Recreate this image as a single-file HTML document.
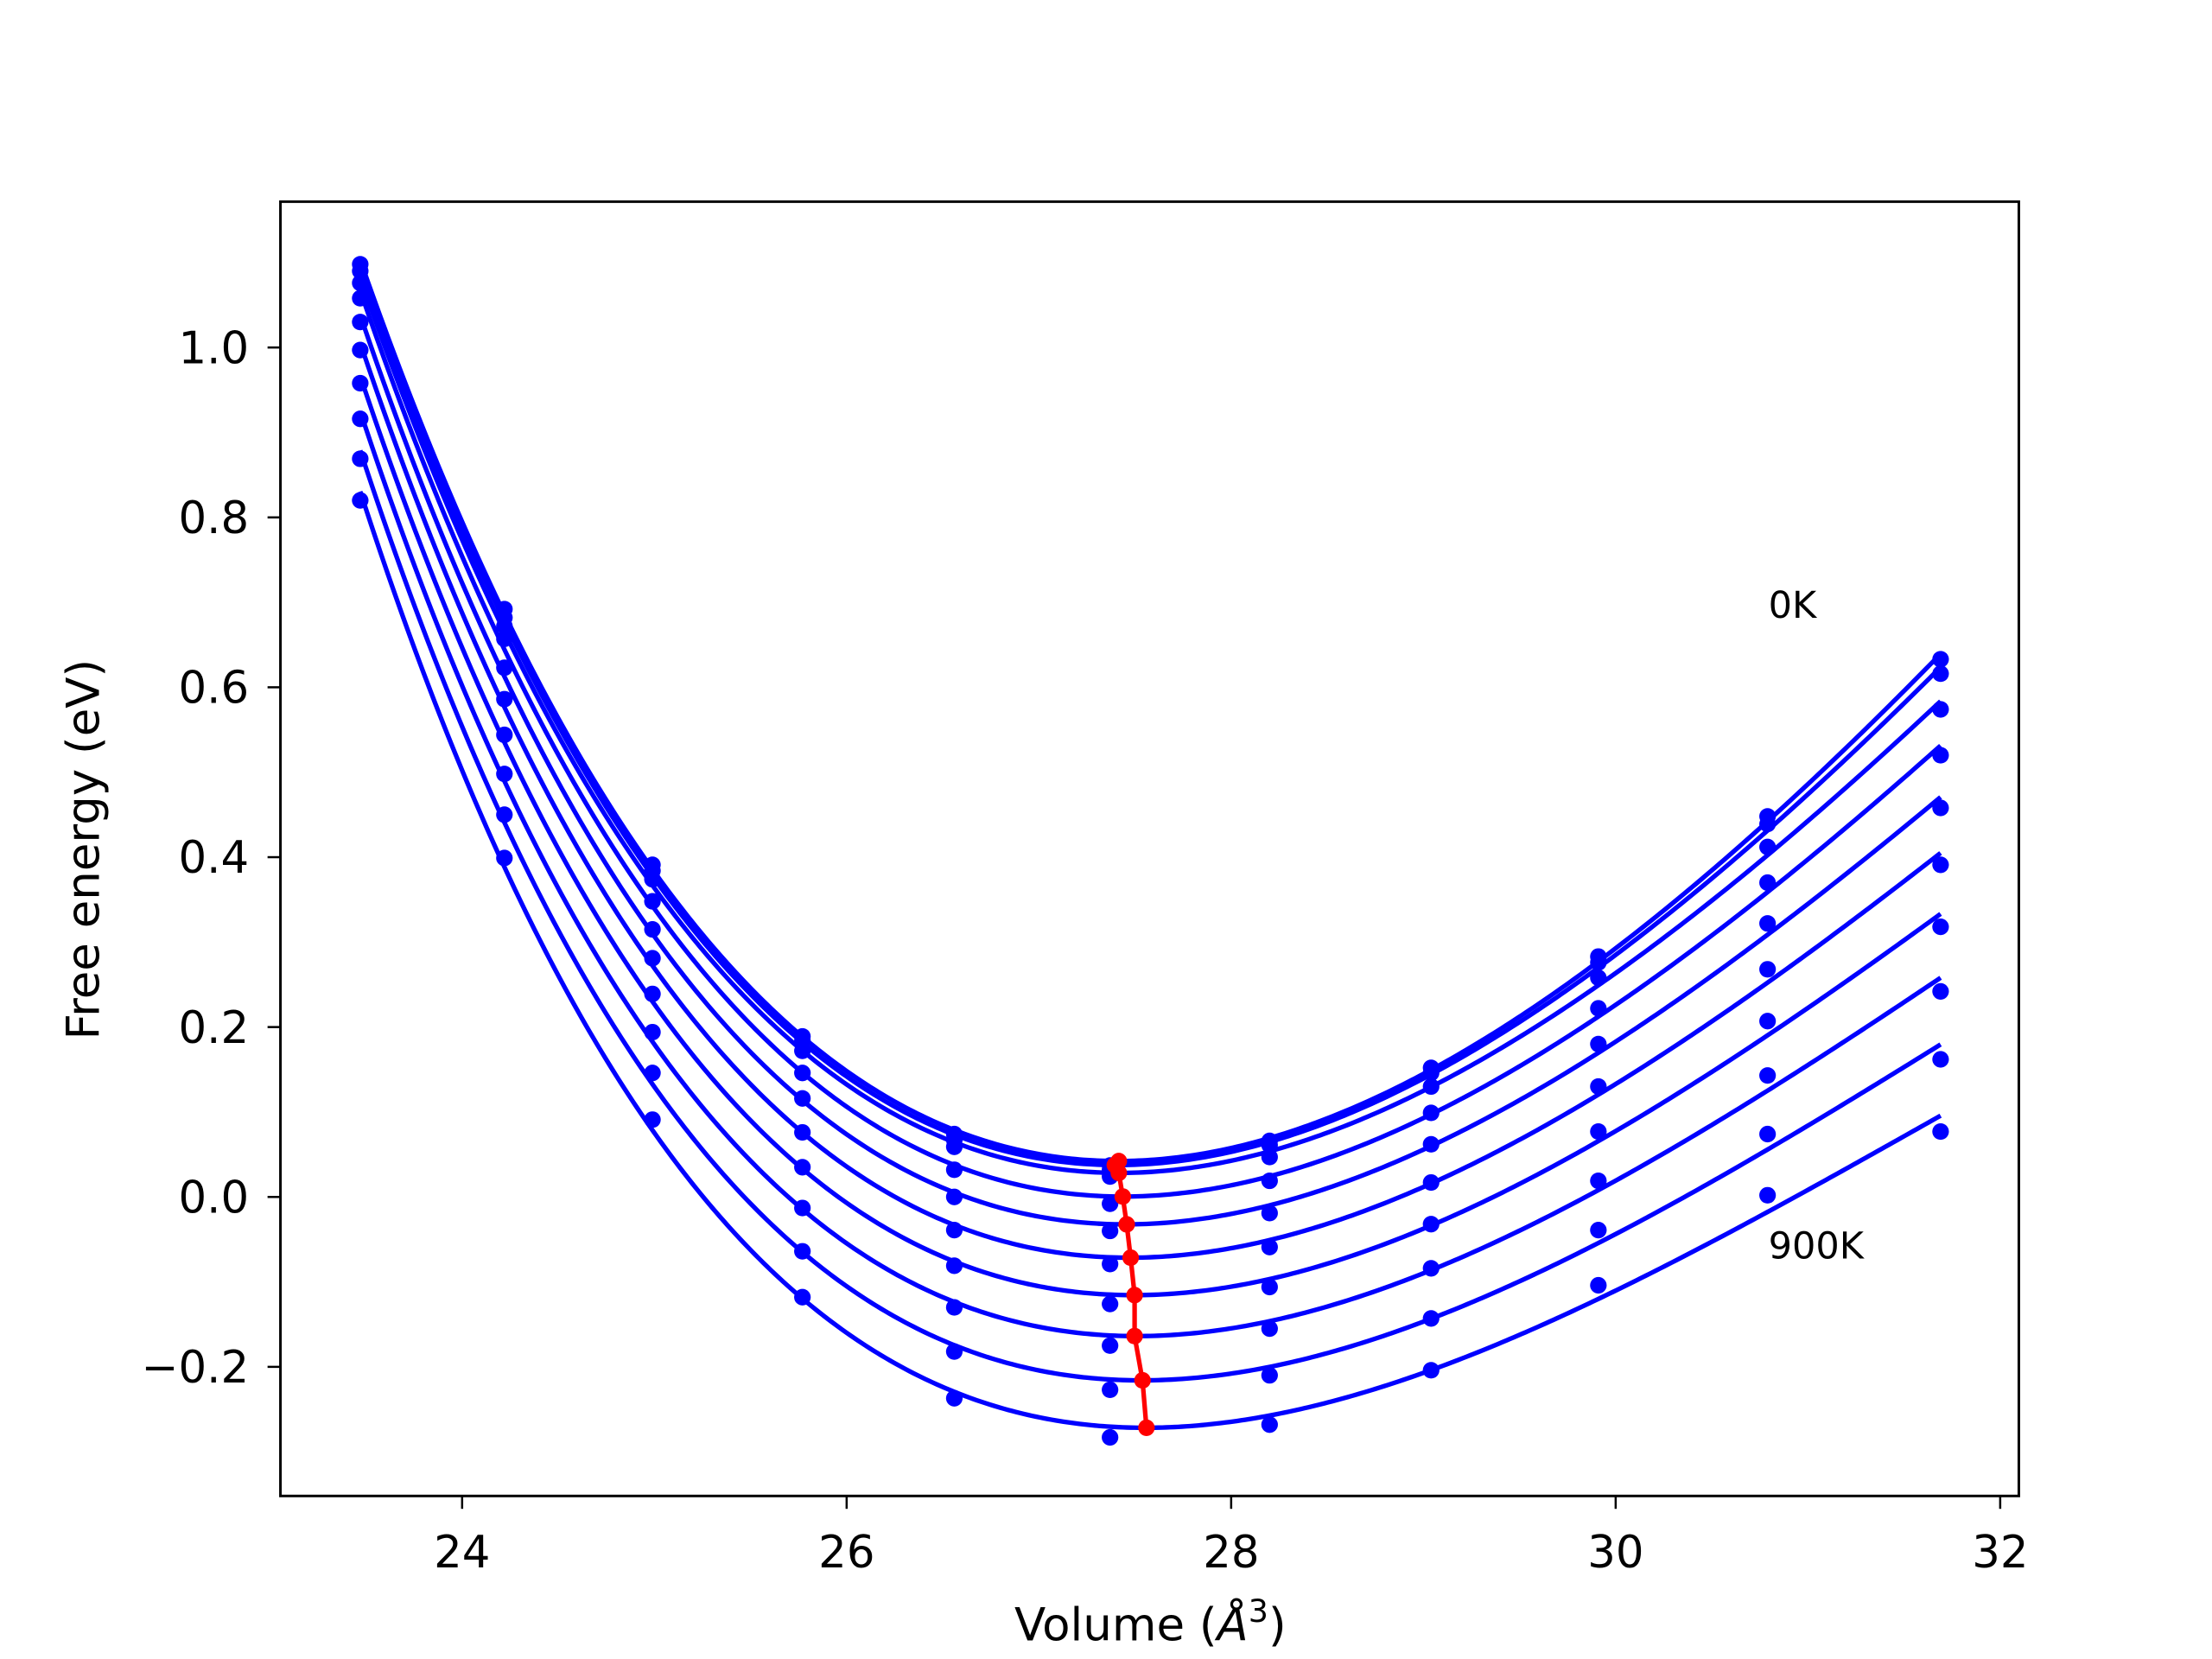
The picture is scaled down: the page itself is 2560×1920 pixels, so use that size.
<!DOCTYPE html>
<html><head><meta charset="utf-8"><style>
html,body{margin:0;padding:0;background:#fff;}
svg{display:block;}
text{font-family:"DejaVu Sans","Liberation Sans",sans-serif;fill:#000;}
</style></head><body>
<svg id="chart" width="2560" height="1920" viewBox="0 0 1546 1160" preserveAspectRatio="none" xmlns="http://www.w3.org/2000/svg">
<rect x="0" y="0" width="1546" height="1160" fill="#fff"/>
<g id="plot"></g>
<rect x="196" y="141" width="1215" height="905" fill="none" stroke="#000" stroke-width="1.8"/>
<g id="xticks"></g>
<g id="yticks"></g>
<text x="804" y="1147" font-size="32" text-anchor="middle">Volume (<tspan font-style="italic">Å</tspan><tspan font-size="22" dy="-13">3</tspan><tspan dy="13">)</tspan></text>
<text transform="translate(69,594) rotate(-90)" font-size="32" text-anchor="middle">Free energy (eV)</text>
<text x="1236" y="432" font-size="26">0K</text>
<text x="1236" y="880" font-size="26">900K</text>
</svg>
<script>
const volumes = [23.47, 24.22, 24.99, 25.77, 26.56, 27.37, 28.20, 29.04, 29.91, 30.79, 31.69];
const temperatures = ["0K","100K","200K","300K","400K","500K","600K","700K","800K","900K"];
const e0 = [1.098, 0.692, 0.391, 0.189, 0.074, 0.037, 0.066, 0.152, 0.283, 0.448, 0.633];
const e1 = [1.090, 0.682, 0.384, 0.184, 0.067, 0.032, 0.061, 0.146, 0.276, 0.439, 0.616];
const e2 = [1.076, 0.672, 0.374, 0.172, 0.059, 0.024, 0.047, 0.130, 0.258, 0.412, 0.574];
const e3 = [1.058, 0.657, 0.348, 0.146, 0.032, -0.008, 0.019, 0.099, 0.222, 0.370, 0.520];
const e4 = [1.030, 0.623, 0.315, 0.116, 0.000, -0.040, -0.019, 0.062, 0.180, 0.322, 0.458];
const e5 = [0.997, 0.586, 0.281, 0.076, -0.039, -0.079, -0.059, 0.017, 0.130, 0.268, 0.391];
const e6 = [0.958, 0.544, 0.239, 0.035, -0.081, -0.126, -0.106, -0.032, 0.077, 0.207, 0.318];
const e7 = [0.916, 0.498, 0.194, -0.013, -0.130, -0.175, -0.155, -0.084, 0.019, 0.143, 0.242];
const e8 = [0.869, 0.450, 0.146, -0.064, -0.182, -0.227, -0.210, -0.143, -0.039, 0.074, 0.162];
const e9 = [0.820, 0.399, 0.091, -0.118, -0.237, -0.283, -0.268, -0.204, -0.104, 0.002, 0.077];
const series = [e0, e1, e2, e3, e4, e5, e6, e7, e8, e9];
const xTicks = [24, 26, 28, 30, 32];
const yTicks = [-0.2, 0.0, 0.2, 0.4, 0.6, 0.8, 1.0];
const yTickLabels = ["\u22120.2", "0.0", "0.2", "0.4", "0.6", "0.8", "1.0"];

const X0 = 196, X1 = 1411, Y0 = 141, Y1 = 1046;
const xMin = 23.055, xMax = 32.097, yMin = -0.352, yMax = 1.1717;
const sx = v => X0 + (v - xMin) / (xMax - xMin) * (X1 - X0);
const sy = v => Y1 - (v - yMin) / (yMax - yMin) * (Y1 - Y0);
const NS = "http://www.w3.org/2000/svg";
function mk(tag, attrs, parent) { const e = document.createElementNS(NS, tag); for (const k in attrs) e.setAttribute(k, attrs[k]); parent.appendChild(e); return e; }

// Birch-Murnaghan style fit: E = a + b x + c x^2 + d x^3, x = V^(-2/3)
function fitBM(xs, ys) {
  const n = 4, s = 0.1;
  const tr = v => (Math.pow(v, -2/3) - s) * 100;
  const A = Array.from({length:n}, () => new Array(n+1).fill(0));
  for (let k = 0; k < xs.length; k++) {
    const t = tr(xs[k]), p = [1, t, t*t, t*t*t];
    for (let i = 0; i < n; i++) { for (let j = 0; j < n; j++) A[i][j] += p[i]*p[j]; A[i][n] += p[i]*ys[k]; }
  }
  for (let i = 0; i < n; i++) {
    let m = i; for (let r = i+1; r < n; r++) if (Math.abs(A[r][i]) > Math.abs(A[m][i])) m = r;
    [A[i], A[m]] = [A[m], A[i]];
    for (let r = 0; r < n; r++) if (r !== i) { const f = A[r][i] / A[i][i]; for (let j = i; j <= n; j++) A[r][j] -= f*A[i][j]; }
  }
  const co = A.map((row, i) => row[n] / row[i]);
  return v => { const t = tr(v); return co[0] + co[1]*t + co[2]*t*t + co[3]*t*t*t; };
}

const plot = document.getElementById('plot');
const minima = [];
series.forEach((ys, si) => {
  const f = fitBM(volumes, ys);
  const vA = volumes[0], vB = volumes[volumes.length-1];
  let d = "", best = {v: vA, e: Infinity};
  for (let i = 0; i <= 400; i++) {
    const v = vA + (vB - vA) * i / 400, e = f(v);
    if (e < best.e) best = {v, e};
    d += (i ? "L" : "M") + sx(v).toFixed(2) + "," + sy(e).toFixed(2);
  }
  minima.push(best);
  const path = mk('path', {d, fill: 'none', stroke: '#0000ff', 'stroke-width': 3.2}, plot);
  
  
  ys.forEach((e, k) => {
    const c = mk('circle', {cx: sx(volumes[k]), cy: sy(e), r: 5.8, fill: '#0000ff'}, plot);
    
    
  });
});
const rd = minima.map((m, i) => (i ? "L" : "M") + sx(m.v).toFixed(2) + "," + sy(m.e).toFixed(2)).join("");
const rl = mk('path', {d: rd, fill: 'none', stroke: '#ff0000', 'stroke-width': 3.2}, plot);


minima.forEach(m => {
  const c = mk('circle', {cx: sx(m.v), cy: sy(m.e), r: 5.8, fill: '#ff0000'}, plot);
  
  
});

const xg = document.getElementById('xticks');
xTicks.forEach(t => {
  const x = sx(t);
  const l = mk('line', {x1: x, x2: x, y1: Y1, y2: Y1 + 9, stroke: '#000', 'stroke-width': 1.5}, xg);
  
  
  const tx = mk('text', {x: x, y: Y1 + 50, 'font-size': 31, 'text-anchor': 'middle'}, xg);
  tx.textContent = String(t);
  
  
});
const yg = document.getElementById('yticks');
yTicks.forEach((t, i) => {
  const y = sy(t);
  const l = mk('line', {x1: X0 - 9, x2: X0, y1: y, y2: y, stroke: '#000', 'stroke-width': 1.5}, yg);
  
  
  const tx = mk('text', {x: X0 - 22, y: y + 11, 'font-size': 31, 'text-anchor': 'end'}, yg);
  tx.textContent = yTickLabels[i];
  
  
});
</script>
</body></html>
